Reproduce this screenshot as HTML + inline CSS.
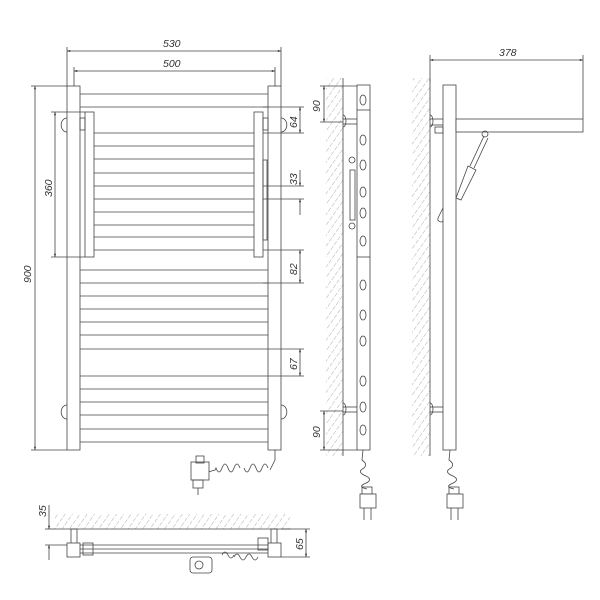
<!DOCTYPE html>
<html><head><style>body{margin:0;background:#fff}svg{display:block}text{font-family:"Liberation Sans",sans-serif;font-style:italic;font-size:10.5px;fill:#333}</style></head><body>
<svg width="600" height="600" viewBox="0 0 600 600" xmlns="http://www.w3.org/2000/svg">
<defs>
<pattern id="h" width="6" height="6" patternUnits="userSpaceOnUse" patternTransform="rotate(35)"><line x1="0" y1="0" x2="0" y2="6" stroke="#777" stroke-width="0.6" stroke-dasharray="3,1.5"/></pattern>
<marker id="a" viewBox="0 0 10 10" refX="10" refY="5" markerWidth="7" markerHeight="4" orient="auto-start-reverse"><path d="M0,2 L10,5 L0,8z" fill="#222"/></marker>
</defs>
<g stroke="#444" stroke-width="0.8" fill="none">
<!-- front view -->
<rect x="67" y="86" width="13" height="364" fill="#fff"/>
<rect x="268" y="86" width="13" height="364" fill="#fff"/>
<line x1="80" y1="94" x2="268" y2="94"/><line x1="80" y1="107" x2="268" y2="107"/>
<g>
<line x1="80" y1="270" x2="268" y2="270"/><line x1="80" y1="283" x2="268" y2="283"/>
<line x1="80" y1="296" x2="268" y2="296"/><line x1="80" y1="309" x2="268" y2="309"/>
<line x1="80" y1="322" x2="268" y2="322"/><line x1="80" y1="335" x2="268" y2="335"/>
<line x1="80" y1="349" x2="268" y2="349"/><line x1="80" y1="376" x2="268" y2="376"/>
<line x1="80" y1="389" x2="268" y2="389"/><line x1="80" y1="402" x2="268" y2="402"/>
<line x1="80" y1="415" x2="268" y2="415"/><line x1="80" y1="429" x2="268" y2="429"/>
<line x1="80" y1="442" x2="268" y2="442"/>
</g>
<rect x="85" y="112" width="9" height="145" fill="#fff"/>
<rect x="254" y="112" width="9" height="145" fill="#fff"/>
<g>
<line x1="94" y1="133" x2="254" y2="133"/><line x1="94" y1="146" x2="254" y2="146"/>
<line x1="94" y1="159" x2="254" y2="159"/><line x1="94" y1="173" x2="254" y2="173"/>
<line x1="94" y1="186" x2="254" y2="186"/><line x1="94" y1="199" x2="254" y2="199"/>
<line x1="94" y1="212" x2="254" y2="212"/><line x1="94" y1="225" x2="254" y2="225"/>
<line x1="94" y1="237" x2="254" y2="237"/><line x1="94" y1="250" x2="254" y2="250"/>
</g>
<rect x="80" y="118" width="5" height="12"/><rect x="263" y="118" width="5" height="12"/>
<path d="M67,118 a5,6 0 0 0 0,14"/><path d="M281,118 a5,6 0 0 1 0,14"/>
<path d="M67,405 a5,6 0 0 0 0,14"/><path d="M281,405 a5,6 0 0 1 0,14"/>
<rect x="263" y="160" width="4" height="80"/>
<!-- cable front -->
<path d="M275,450 L275,460 L270,470"/>
<path d="M268,468 q-3,-8 -6,0 q-3,8 -6,0 q-3,-8 -6,0 q-3,8 -6,0 M240,468 q-3,-8 -6,0 q-3,8 -6,0 q-3,-8 -6,0 q-3,8 -6,0 L215,470 L208,472"/>
<rect x="191" y="462" width="18" height="18" fill="#fff"/><rect x="196" y="456" width="8" height="7"/>
<rect x="193" y="480" width="10" height="8"/><line x1="198" y1="488" x2="198" y2="495"/>
<!-- dims front -->
<line x1="67" y1="86" x2="67" y2="47"/><line x1="281" y1="86" x2="281" y2="47"/>
<line x1="74" y1="86" x2="74" y2="67"/><line x1="275" y1="86" x2="275" y2="67"/>
<line x1="67" y1="51" x2="281" y2="51" marker-start="url(#a)" marker-end="url(#a)"/>
<line x1="74" y1="71" x2="275" y2="71" marker-start="url(#a)" marker-end="url(#a)"/>
<line x1="67" y1="86" x2="31" y2="86"/><line x1="67" y1="450" x2="31" y2="450"/>
<line x1="35" y1="86" x2="35" y2="450" marker-start="url(#a)" marker-end="url(#a)"/>
<line x1="85" y1="112" x2="51" y2="112"/><line x1="85" y1="257" x2="51" y2="257"/>
<line x1="55" y1="112" x2="55" y2="257" marker-start="url(#a)" marker-end="url(#a)"/>
<g>
<line x1="263" y1="107" x2="304" y2="107"/><line x1="263" y1="133" x2="304" y2="133"/>
<line x1="300" y1="107" x2="300" y2="133" marker-start="url(#a)" marker-end="url(#a)"/>
<line x1="263" y1="186" x2="304" y2="186"/><line x1="263" y1="199" x2="304" y2="199"/>
<line x1="300" y1="170" x2="300" y2="186" marker-end="url(#a)"/><line x1="300" y1="215" x2="300" y2="199" marker-end="url(#a)"/>
<line x1="263" y1="250" x2="304" y2="250"/><line x1="263" y1="283" x2="304" y2="283"/>
<line x1="300" y1="250" x2="300" y2="283" marker-start="url(#a)" marker-end="url(#a)"/>
<line x1="268" y1="349" x2="304" y2="349"/><line x1="268" y1="376" x2="304" y2="376"/>
<line x1="300" y1="349" x2="300" y2="376" marker-start="url(#a)" marker-end="url(#a)"/>
</g>
<!-- bottom view -->
<rect x="55" y="514" width="235" height="15" fill="url(#h)" stroke="none"/>
<line x1="55" y1="529" x2="290" y2="529"/>
<rect x="71" y="529" width="6" height="15"/><rect x="271" y="529" width="6" height="15"/>
<rect x="67" y="543" width="13" height="14" fill="#fff"/><rect x="268" y="543" width="13" height="14" fill="#fff"/>
<line x1="80" y1="545" x2="268" y2="545"/><line x1="80" y1="549" x2="268" y2="549"/><line x1="80" y1="553" x2="268" y2="553"/>
<rect x="83" y="543" width="10" height="12"/><rect x="258" y="538" width="10" height="12"/>
<path d="M234,557 q3,-6 6,0 q3,6 6,0 q3,-6 6,0 q3,6 6,0"/>
<path d="M222,555 q3,-6 6,0 q3,6 6,0"/>
<rect x="190" y="557" width="22" height="16" rx="3" fill="#fff"/><circle cx="199" cy="565" r="4"/>
<line x1="49" y1="505" x2="49" y2="529" marker-end="url(#a)"/><line x1="49" y1="560" x2="49" y2="545" marker-end="url(#a)"/>
<line x1="45" y1="529" x2="55" y2="529"/><line x1="45" y1="545" x2="67" y2="545"/>
<line x1="281" y1="529" x2="310" y2="529"/><line x1="281" y1="557" x2="310" y2="557"/>
<line x1="306" y1="529" x2="306" y2="557" marker-start="url(#a)" marker-end="url(#a)"/>
<!-- side view 1 -->
<rect x="326" y="78" width="17" height="378" fill="url(#h)" stroke="none"/>
<line x1="343" y1="78" x2="343" y2="456"/>
<rect x="357" y="85" width="13" height="365" fill="#fff"/>
<line x1="357" y1="257" x2="370" y2="257"/><line x1="357" y1="110" x2="370" y2="110"/>
<g>
<ellipse cx="363" cy="100" rx="3" ry="5"/><ellipse cx="363" cy="140" rx="3" ry="5"/>
<ellipse cx="363" cy="165" rx="3" ry="5"/><ellipse cx="363" cy="192" rx="3" ry="5"/>
<ellipse cx="363" cy="213" rx="3" ry="5"/><ellipse cx="363" cy="241" rx="3" ry="5"/>
<ellipse cx="363" cy="285" rx="3" ry="5"/><ellipse cx="363" cy="315" rx="3" ry="5"/>
<ellipse cx="363" cy="341" rx="3" ry="5"/><ellipse cx="363" cy="381" rx="3" ry="5"/>
<ellipse cx="363" cy="407" rx="3" ry="5"/><ellipse cx="363" cy="430" rx="3" ry="5"/>
</g>
<line x1="343" y1="119" x2="357" y2="119"/><line x1="343" y1="124" x2="357" y2="124"/>
<path d="M343,115 a3,6 0 0 1 0,12"/>
<line x1="343" y1="407" x2="357" y2="407"/><line x1="343" y1="412" x2="357" y2="412"/>
<path d="M343,403 a3,6 0 0 1 0,12"/>
<rect x="350" y="170" width="5" height="50"/><circle cx="352" cy="160" r="3"/><circle cx="352" cy="226" r="3"/>
<line x1="320" y1="86" x2="357" y2="86"/><line x1="320" y1="122" x2="343" y2="122"/>
<line x1="324" y1="86" x2="324" y2="122" marker-start="url(#a)" marker-end="url(#a)"/>
<line x1="320" y1="411" x2="343" y2="411"/><line x1="320" y1="450" x2="357" y2="450"/>
<line x1="324" y1="411" x2="324" y2="450" marker-start="url(#a)" marker-end="url(#a)"/>
<path d="M363,450 L362,460 q6,4 2,8 q-8,4 2,8 q8,4 -2,8 q-6,3 3,5"/>
<rect x="362" y="487" width="10" height="7"/><rect x="360" y="494" width="16" height="14" fill="#fff"/>
<line x1="364" y1="508" x2="364" y2="520"/><line x1="371" y1="508" x2="371" y2="520"/>
<!-- side view 2 -->
<rect x="412" y="78" width="18" height="378" fill="url(#h)" stroke="none"/>
<line x1="430" y1="78" x2="430" y2="456"/>
<rect x="443" y="85" width="13" height="365" fill="#fff"/>
<rect x="456" y="119" width="127" height="13" fill="#fff"/>
<line x1="430" y1="119" x2="443" y2="119"/><line x1="430" y1="125" x2="443" y2="125"/>
<path d="M430,115 a3,6 0 0 1 0,12"/><rect x="435" y="127" width="8" height="6"/>
<line x1="430" y1="407" x2="443" y2="407"/><line x1="430" y1="412" x2="443" y2="412"/>
<path d="M430,403 a3,6 0 0 1 0,12"/>
<path d="M484,136 L470,166 M488,138 L474,168"/>
<path d="M468,166 L476,170 L461,200 L456,198 Z" fill="#fff"/>
<circle cx="485" cy="134" r="3"/><path d="M443,208 l-5,10 a3,3 0 0 0 5,3"/>
<line x1="430" y1="82" x2="430" y2="55"/><line x1="583" y1="119" x2="583" y2="55"/>
<line x1="430" y1="60" x2="583" y2="60" marker-start="url(#a)" marker-end="url(#a)"/>
<path d="M450,450 L449,460 q6,4 2,8 q-8,4 2,8 q8,4 -2,8 q-6,3 3,5"/>
<rect x="449" y="487" width="10" height="7"/><rect x="447" y="494" width="16" height="14" fill="#fff"/>
<line x1="451" y1="508" x2="451" y2="520"/><line x1="458" y1="508" x2="458" y2="520"/>
</g>
<text x="163" y="47">530</text>
<text x="163" y="67">500</text>
<text x="499" y="56">378</text>
<text transform="translate(31,283) rotate(-90)">900</text>
<text transform="translate(52,197) rotate(-90)">360</text>
<text transform="translate(297,128) rotate(-90)">64</text>
<text transform="translate(297,185) rotate(-90)">33</text>
<text transform="translate(297,275) rotate(-90)">82</text>
<text transform="translate(297,370) rotate(-90)">67</text>
<text transform="translate(320,112) rotate(-90)">90</text>
<text transform="translate(320,438) rotate(-90)">90</text>
<text transform="translate(46,517) rotate(-90)">35</text>
<text transform="translate(303,550) rotate(-90)">65</text>
</svg>
</body></html>
